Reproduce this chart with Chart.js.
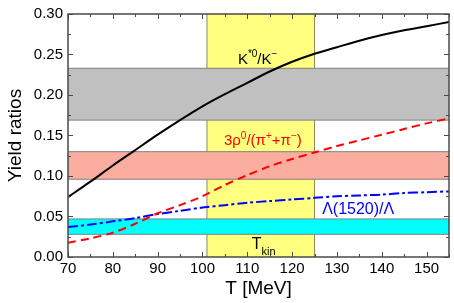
<!DOCTYPE html>
<html>
<head>
<meta charset="utf-8">
<script src="https://cdn.jsdelivr.net/npm/chart.js@4.4.1/dist/chart.umd.min.js"></script>
<style>
  html, body { margin: 0; padding: 0; background: #fff; }
</style>
</head>
<body>
<canvas id="ratios" width="454" height="303"></canvas>
<script>
// temperature grid (MeV) and yield ratios
const temps = [70, 75, 80, 85, 90, 95, 100, 105, 110, 115, 120, 125, 130, 135, 140, 145, 150, 155];
const kStarK = [0.074, 0.093, 0.113, 0.132, 0.151, 0.169, 0.186, 0.201, 0.215, 0.229, 0.241, 0.251, 0.259, 0.267, 0.274, 0.280, 0.285, 0.290];
const rhoPi = [0.0175, 0.023, 0.030, 0.041, 0.054, 0.064, 0.075, 0.089, 0.101, 0.112, 0.121, 0.129, 0.137, 0.144, 0.151, 0.158, 0.165, 0.171];
const lambdaRatio = [0.037, 0.040, 0.044, 0.048, 0.053, 0.057, 0.061, 0.064, 0.067, 0.069, 0.071, 0.073, 0.075, 0.076, 0.077, 0.079, 0.080, 0.081];

const xTicks = [70, 80, 90, 100, 110, 120, 130, 140, 150];
const yTicks = [0, 0.05, 0.10, 0.15, 0.20, 0.25, 0.30];

// measured ranges (bands)
const tkinBand = [101, 125];
const kStarBand = [0.169, 0.233];
const rhoBand = [0.096, 0.130];
const lambdaBand = [0.028, 0.047];

const FONT = '"Liberation Sans", Arial, sans-serif';

function pts(ys) {
  return temps.map((t, i) => ({ x: t, y: ys[i] }));
}

function richText(ctx, parts, x, y, size, color) {
  ctx.fillStyle = color;
  ctx.textAlign = 'left';
  ctx.textBaseline = 'alphabetic';
  for (const [t, kind] of parts) {
    const s = kind ? Math.round(size * 0.68) : size;
    const dy = kind === 'sup' ? -size * 0.42 : kind === 'sub' ? size * 0.38 : 0;
    ctx.font = `${s}px ${FONT}`;
    ctx.fillText(t, x, y + dy);
    x += ctx.measureText(t).width;
  }
}

const bands = {
  id: 'bands',
  beforeDatasetsDraw(chart) {
    const { ctx, chartArea: a, scales: { x, y } } = chart;
    ctx.save();
    // T_kin range
    const x0 = x.getPixelForValue(tkinBand[0]);
    const x1 = x.getPixelForValue(tkinBand[1]);
    ctx.fillStyle = '#FFFF80';
    ctx.fillRect(x0, a.top, x1 - x0, a.bottom - a.top);
    ctx.strokeStyle = '#8a8a60';
    ctx.lineWidth = 1;
    ctx.beginPath();
    ctx.moveTo(x0, a.top); ctx.lineTo(x0, a.bottom);
    ctx.moveTo(x1, a.top); ctx.lineTo(x1, a.bottom);
    ctx.stroke();

    const hb = [[kStarBand, '#C0C0C0'], [rhoBand, '#FBADA0'], [lambdaBand, '#00FFFF']];
    for (const [[lo, hi], col] of hb) {
      const yt = y.getPixelForValue(hi);
      const yb = y.getPixelForValue(lo);
      ctx.fillStyle = col;
      ctx.fillRect(a.left, yt, a.right - a.left, yb - yt);
      ctx.strokeStyle = '#808080';
      ctx.beginPath();
      ctx.moveTo(a.left, yt); ctx.lineTo(a.right, yt);
      ctx.moveTo(a.left, yb); ctx.lineTo(a.right, yb);
      ctx.stroke();
    }
    ctx.restore();
  }
};

const frame = {
  id: 'frame',
  afterDatasetsDraw(chart) {
    const { ctx, chartArea: a, scales: { x, y } } = chart;
    ctx.save();
    ctx.strokeStyle = '#4a4a4a';
    ctx.lineWidth = 1;
    ctx.beginPath();
    for (let v = 70; v <= 155; v += 5) {
      const px = Math.round(x.getPixelForValue(v)) + 0.5;
      const len = v % 10 === 0 ? 5 : 3;
      ctx.moveTo(px, a.bottom); ctx.lineTo(px, a.bottom - len);
      ctx.moveTo(px, a.top); ctx.lineTo(px, a.top + len);
    }
    for (let i = 0; i <= 12; i++) {
      const py = Math.round(y.getPixelForValue(i * 0.025)) + 0.5;
      const len = i % 2 === 0 ? 5 : 3;
      ctx.moveTo(a.left, py); ctx.lineTo(a.left + len, py);
      ctx.moveTo(a.right, py); ctx.lineTo(a.right - len, py);
    }
    ctx.stroke();
    ctx.lineWidth = 1.5;
    ctx.strokeRect(a.left, a.top, a.right - a.left, a.bottom - a.top);

    // curve labels
    richText(ctx, [['K'], ['*0', 'sup'], ['/K'], ['\u2212', 'sup']],
      x.getPixelForValue(107.9), y.getPixelForValue(0.2388), 15, '#000');
    richText(ctx, [['3\u03C1'], ['0', 'sup'], ['/(\u03C0'], ['+', 'sup'], ['+\u03C0'], ['\u2212', 'sup'], [')']],
      x.getPixelForValue(104.8), y.getPixelForValue(0.1384), 15, '#FF0000');
    richText(ctx, [['\u039B(1520)/\u039B']],
      x.getPixelForValue(126.7), y.getPixelForValue(0.0527), 16, '#0000FF');
    richText(ctx, [['T'], ['kin', 'sub']],
      x.getPixelForValue(111.0), y.getPixelForValue(0.0098), 16, '#000');
    ctx.restore();
  }
};

new Chart(document.getElementById('ratios'), {
  type: 'scatter',
  data: {
    datasets: [
      {
        label: 'K*0/K-',
        data: pts(kStarK),
        showLine: true,
        borderColor: '#000000',
        borderWidth: 2,
        pointRadius: 0,
        tension: 0.3
      },
      {
        label: '3rho0/(pi+ + pi-)',
        data: pts(rhoPi),
        showLine: true,
        borderColor: '#FF0000',
        borderWidth: 2,
        borderDash: [8, 5],
        pointRadius: 0,
        tension: 0.3
      },
      {
        label: 'Lambda(1520)/Lambda',
        data: pts(lambdaRatio),
        showLine: true,
        borderColor: '#0000FF',
        borderWidth: 2,
        borderDash: [10, 3, 3, 3],
        pointRadius: 0,
        tension: 0.3
      }
    ]
  },
  options: {
    responsive: false,
    animation: false,
    devicePixelRatio: 1,
    layout: { padding: { top: 12, right: 5, left: 0, bottom: 0 } },
    plugins: { legend: { display: false }, tooltip: { enabled: false } },
    scales: {
      x: {
        type: 'linear',
        min: 70,
        max: 155,
        afterBuildTicks: s => { s.ticks = xTicks.map(v => ({ value: v })); },
        afterFit: s => { s.height = 46; },
        grid: { display: false, drawTicks: false },
        border: { display: false },
        ticks: { color: '#000', padding: 3, maxRotation: 0, autoSkip: false, font: { family: FONT, size: 15 } },
        title: { display: true, text: 'T [MeV]', color: '#000', font: { family: FONT, size: 19 }, padding: { top: 0, bottom: 3 } }
      },
      y: {
        min: 0,
        max: 0.3,
        afterBuildTicks: s => { s.ticks = yTicks.map(v => ({ value: v })); },
        afterFit: s => { s.width = 68; },
        grid: { display: false, drawTicks: false },
        border: { display: false },
        ticks: { color: '#000', padding: 5, font: { family: FONT, size: 15 }, callback: v => v.toFixed(2) },
        title: { display: true, text: 'Yield ratios', color: '#000', font: { family: FONT, size: 19 }, padding: { top: 4, bottom: 0 } }
      }
    }
  },
  plugins: [bands, frame]
});
</script>
</body>
</html>
